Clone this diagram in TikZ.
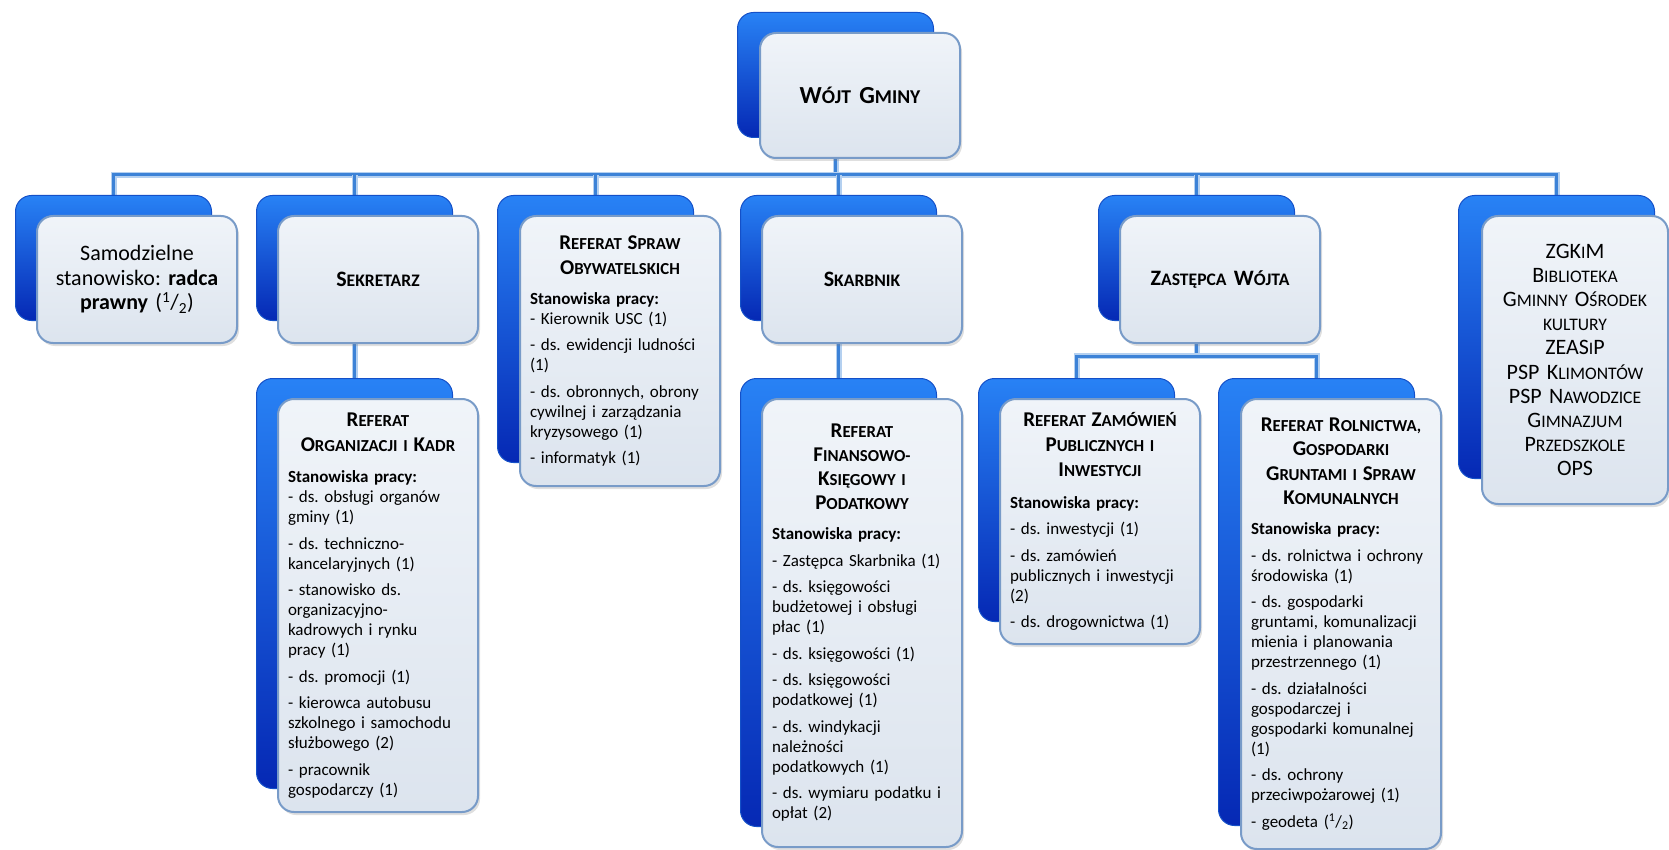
\documentclass[tikz,border=0pt]{standalone}
\usepackage{fontspec}
\setmainfont{Carlito}
\newfontfamily\scf[Scale=0.8]{Carlito}
\usetikzlibrary{shadows}
\pgfdeclarelayer{background}
\pgfsetlayers{background,main}
\definecolor{bluetop}{RGB}{40,130,245}
\definecolor{bluebot}{RGB}{5,40,180}
\definecolor{blueedge}{RGB}{20,80,200}
\definecolor{frtop}{RGB}{240,244,249}
\definecolor{frbot}{RGB}{220,228,238}
\definecolor{fredge}{RGB}{120,155,200}
\definecolor{linkc}{RGB}{60,130,215}
\definecolor{linklight}{RGB}{180,208,240}
\frenchspacing
\begin{document}
\begin{tikzpicture}[x=1pt,y=-1pt,
  backbox/.style={anchor=north west, minimum width=196pt, rounded corners=16pt,
    top color=bluetop, bottom color=bluebot, draw=blueedge, line width=1pt, inner sep=0pt},
  frontbox/.style={anchor=north west, minimum width=200pt, rounded corners=16pt,
    top color=frtop, bottom color=frbot, draw=fredge, line width=2pt,
    drop shadow={shadow xshift=2pt, shadow yshift=-3pt, opacity=0.25},
    inner xsep=10pt, inner ysep=4pt, text width=180pt,
    font=\fontsize{17}{20}\selectfont, align=left},
  titlebox/.style={frontbox, align=center, font=\fontsize{22}{25}\selectfont\bfseries},
  link/.style={draw=linkc, line width=3pt, preaction={draw=linklight, line width=6pt}}]

\useasboundingbox (0,0) rectangle (1669,850);
\begin{pgfonlayer}{background}
\fill[white] (0,0) rectangle (1669,850);
\end{pgfonlayer}

\coordinate (bus) at (0,175);
\coordinate (sub) at (0,356);

% top
\node[backbox, minimum height=125pt] (wojt-b) at (737,12) {};
\node[titlebox, minimum height=125pt, font=\fontsize{24.5}{27}\selectfont\bfseries] (wojt-f) at (759,32) {W{\scf ÓJT} G{\scf MINY}};

% row 1
\node[backbox, minimum height=125pt] (sam-b) at (15,195) {};
\node[frontbox, minimum height=127pt, align=center, font=\fontsize{22}{24.5}\selectfont] (sam-f) at (36,215)
  {Samodzielne\\stanowisko: \textbf{radca}\\\textbf{prawny} (\textsuperscript{1}/\textsubscript{2})};

\node[backbox, minimum height=125pt] (sek-b) at (256,195) {};
\node[titlebox, minimum height=127pt] (sek-f) at (277,215) {S{\scf EKRETARZ}};

\node[backbox, minimum height=267pt] (spr-b) at (497,195) {};
\node[frontbox, minimum height=270pt] (spr-f) at (519,215)
  {{\centering\fontsize{21}{25}\selectfont\bfseries R{\scf EFERAT} S{\scf PRAW}\\O{\scf BYWATELSKICH}\par}\vspace{10pt}
   \textbf{Stanowiska pracy:}\\
   - Kierownik USC (1)\\[6.5pt]
   - ds. ewidencji ludności\\(1)\\[6.5pt]
   - ds. obronnych, obrony\\cywilnej i zarządzania\\kryzysowego (1)\\[6.5pt]
   - informatyk (1)};

\node[backbox, minimum height=125pt] (ska-b) at (740,195) {};
\node[titlebox, minimum height=127pt] (ska-f) at (761,215) {S{\scf KARBNIK}};

\node[backbox, minimum height=125pt] (zas-b) at (1098,195) {};
\node[titlebox, minimum height=127pt] (zas-f) at (1119,215) {Z{\scf ASTĘPCA} W{\scf ÓJTA}};

\node[backbox, minimum height=283pt] (zg-b) at (1458,195) {};
\node[frontbox, minimum height=288pt, minimum width=186pt, text width=166pt, align=center,
  font=\fontsize{22}{24.2}\selectfont] (zg-f) at (1481,215)
  {ZGK{\scf I}M\\B{\scf IBLIOTEKA}\\G{\scf MINNY} O{\scf ŚRODEK}\\{\scf KULTURY}\\ZEAS{\scf I}P\\PSP K{\scf LIMONTÓW}\\PSP N{\scf AWODZICE}\\G{\scf IMNAZJUM}\\P{\scf RZEDSZKOLE}\\OPS};

% row 2
\node[backbox, minimum height=410pt] (org-b) at (256,378) {};
\node[frontbox, minimum height=413pt] (org-f) at (277,398)
  {{\centering\fontsize{21}{25}\selectfont\bfseries R{\scf EFERAT}\\O{\scf RGANIZACJI I} K{\scf ADR}\par}\vspace{11pt}
   \textbf{Stanowiska pracy:}\\
   - ds. obsługi organów\\gminy (1)\\[6.5pt]
   - ds. techniczno-\\kancelaryjnych (1)\\[6.5pt]
   - stanowisko ds.\\organizacyjno-\\kadrowych i rynku\\pracy (1)\\[6.5pt]
   - ds. promocji (1)\\[6.5pt]
   - kierowca autobusu\\szkolnego i samochodu\\służbowego (2)\\[6.5pt]
   - pracownik\\gospodarczy (1)};

\node[backbox, minimum height=448pt] (fin-b) at (740,378) {};
\node[frontbox, minimum height=448pt] (fin-f) at (761,398)
  {{\centering\fontsize{21}{24}\selectfont\bfseries R{\scf EFERAT}\\F{\scf INANSOWO-}\\K{\scf SIĘGOWY I}\\P{\scf ODATKOWY}\par}\vspace{10pt}
   \textbf{Stanowiska pracy:}\\[6.5pt]
   - Zastępca Skarbnika (1)\\[6.5pt]
   - ds. księgowości\\budżetowej i obsługi\\płac (1)\\[6.5pt]
   - ds. księgowości (1)\\[6.5pt]
   - ds. księgowości\\podatkowej (1)\\[6.5pt]
   - ds. windykacji\\należności\\podatkowych (1)\\[6.5pt]
   - ds. wymiaru podatku i\\opłat (2)};

\node[backbox, minimum height=243pt] (zam-b) at (978,378) {};
\node[frontbox, minimum height=245pt] (zam-f) at (999,398)
  {{\centering\fontsize{21}{25}\selectfont\bfseries R{\scf EFERAT} Z{\scf AMÓWIEŃ}\\P{\scf UBLICZNYCH I}\\I{\scf NWESTYCJI}\par}\vspace{12pt}
   \textbf{Stanowiska pracy:}\\[6.5pt]
   - ds. inwestycji (1)\\[6.5pt]
   - ds. zamówień\\publicznych i inwestycji\\(2)\\[6.5pt]
   - ds. drogownictwa (1)};

\node[backbox, minimum height=447pt] (rol-b) at (1218,378) {};
\node[frontbox, minimum height=450pt] (rol-f) at (1240,398)
  {{\centering\fontsize{21}{24.5}\selectfont\bfseries R{\scf EFERAT} R{\scf OLNICTWA,}\\G{\scf OSPODARKI}\\G{\scf RUNTAMI I} S{\scf PRAW}\\K{\scf OMUNALNYCH}\par}\vspace{10pt}
   \textbf{Stanowiska pracy:}\\[6.5pt]
   - ds. rolnictwa i ochrony\\środowiska (1)\\[6.5pt]
   - ds. gospodarki\\gruntami, komunalizacji\\mienia i planowania\\przestrzennego (1)\\[6.5pt]
   - ds. działalności\\gospodarczej i\\gospodarki komunalnej\\(1)\\[6.5pt]
   - ds. ochrony\\przeciwpożarowej (1)\\[6.5pt]
   - geodeta (\textsuperscript{1}/\textsubscript{2})};

% connectors
\begin{pgfonlayer}{background}
\draw[link] (wojt-f.south -| wojt-b.center) -- (wojt-b.center |- bus);
\draw[link] (sam-b.north) -- (sam-b.north |- bus) -- (zg-b.north |- bus) -- (zg-b.north);
\draw[link] (sek-b.north |- bus) -- (sek-b.north);
\draw[link] (spr-b.north |- bus) -- (spr-b.north);
\draw[link] (ska-b.north |- bus) -- (ska-b.north);
\draw[link] (zas-b.north |- bus) -- (zas-b.north);
\draw[link] (sek-f.south -| sek-b.center) -- (org-b.north);
\draw[link] (ska-f.south -| ska-b.center) -- (fin-b.north);
\draw[link] (zas-f.south -| zas-b.center) -- (zas-b.center |- sub);
\draw[link] (zam-b.north) -- (zam-b.north |- sub) -- (rol-b.north |- sub) -- (rol-b.north);
\end{pgfonlayer}
\end{tikzpicture}
\end{document}
